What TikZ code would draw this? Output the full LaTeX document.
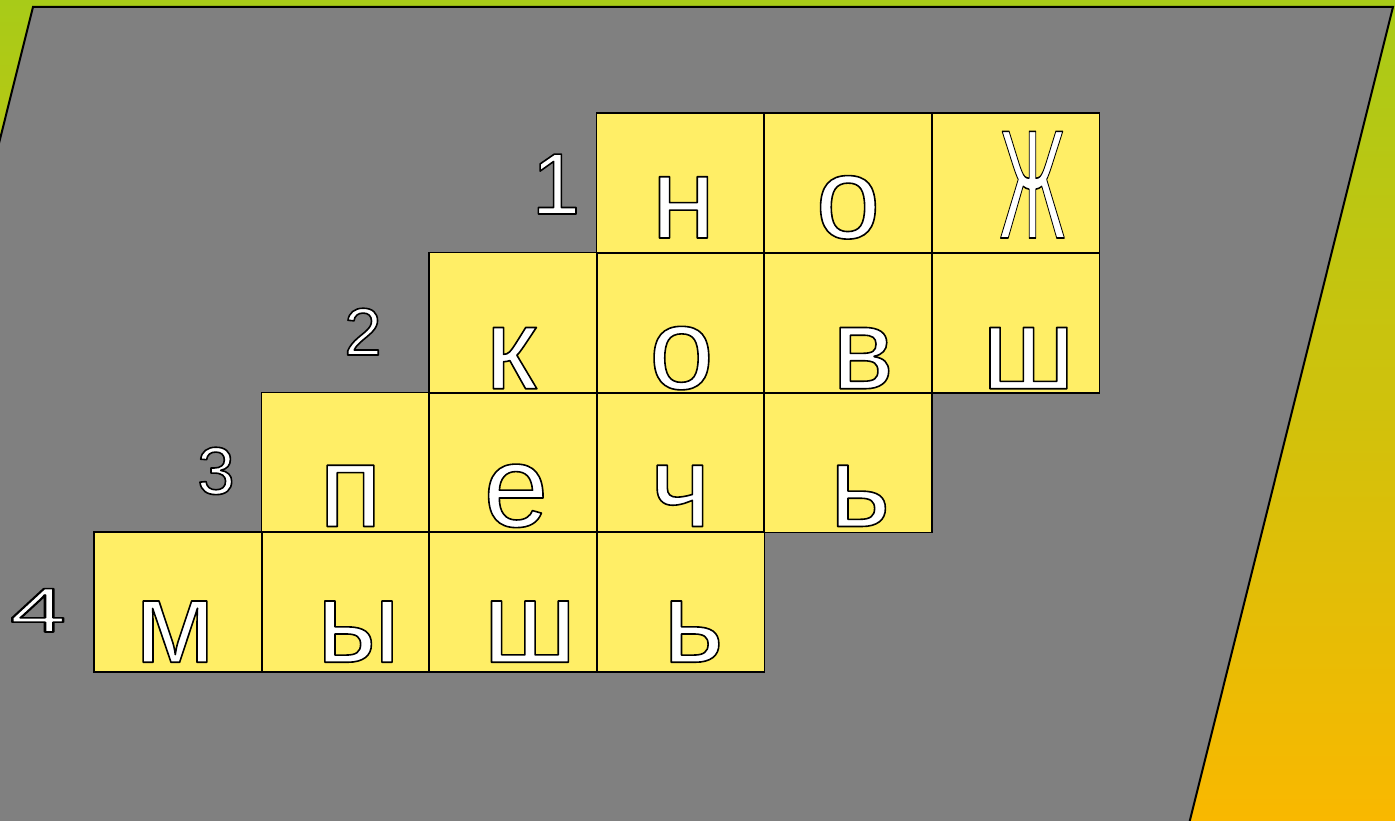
\documentclass[tikz,border=0pt]{standalone}
\usepackage{fontspec}
\setmainfont{Liberation Sans}
\usepackage{graphicx}
\usepackage{tikz}
\usetikzlibrary{calc}

\definecolor{bgtop}{RGB}{168,203,24}
\definecolor{bgbottom}{RGB}{249,184,0}
\definecolor{boardgray}{RGB}{128,128,128}
\definecolor{cellyellow}{RGB}{255,238,102}

% white letters with a thin black outline
\newcommand\outlined[1]{{\color{white}\special{pdf:literal 2 Tr 1.6 w 0 G 1 j}#1\special{pdf:literal 0 Tr}}}
\newcommand\tallzhe{\scalebox{0.46}[1]{\fontsize{155}{155}\selectfont Ж}}

\begin{document}
\begin{tikzpicture}[x=1pt,y=1pt,
  cell/.style={fill=cellyellow,minimum width=167.5pt,
    minimum height=139.75pt,inner sep=0pt,anchor=south west},
  grid/.style={draw=black,line width=1.6pt},
  letter/.style={font=\fontsize{116}{116}\selectfont,anchor=base,inner sep=0pt},
  num/.style={font=\fontsize{67}{67}\selectfont,anchor=base,inner sep=0pt}]
\useasboundingbox (0,0) rectangle (1395,820);
\clip (0,0) rectangle (1395,820);
\shade[top color=bgtop,bottom color=bgbottom] (0,0) rectangle (1395,820);
\filldraw[fill=boardgray,draw=black,line width=2pt]
  (-175,-20) -- (33,813) -- (1393,813) -- (1185,-20) -- cycle;
% cells of the crossword
\foreach \r/\c in {1/3,1/4,1/5,2/2,2/3,2/4,2/5,3/1,3/2,3/3,3/4,4/0,4/1,4/2,4/3}
  \node[cell] (c\r\c) at ({94+167.5*\c},{567-139.75*(\r-1)}) {};
% borders and letters
\foreach \r/\c/\dx/\dy/\l in {1/3/3/15/н,1/4/0/15/о,1/5/17/15/\tallzhe,
    2/2/-2/4/к,2/3/1/4/о,2/4/15/4/в,2/5/13/4/ш,
    3/1/5/6/п,3/2/3/6/е,3/3/0/6/ч,3/4/12/6/ь,
    4/0/-3/10/м,4/1/13/10/ы,4/2/17/10/ш,4/3/13/10/ь}{
  \draw[grid] (c\r\c.south west) rectangle (c\r\c.north east);
  \node[letter] (l\r\c) at ($(c\r\c.south)+(\dx,\dy)$) {\outlined{\l}};
}
% row numbers
\node[num,font=\fontsize{87}{87}\selectfont] (n1) at (556,606) {\outlined{1}};
\node[num] (n2) at (363,465) {\outlined{2}};
\node[num] (n3) at (216,326) {\outlined{3}};
\node[num,font=\fontsize{63}{63}\selectfont] (n4) at (38,188) {\outlined{\scalebox{1.6}[1]{4}}};
\end{tikzpicture}
\end{document}
